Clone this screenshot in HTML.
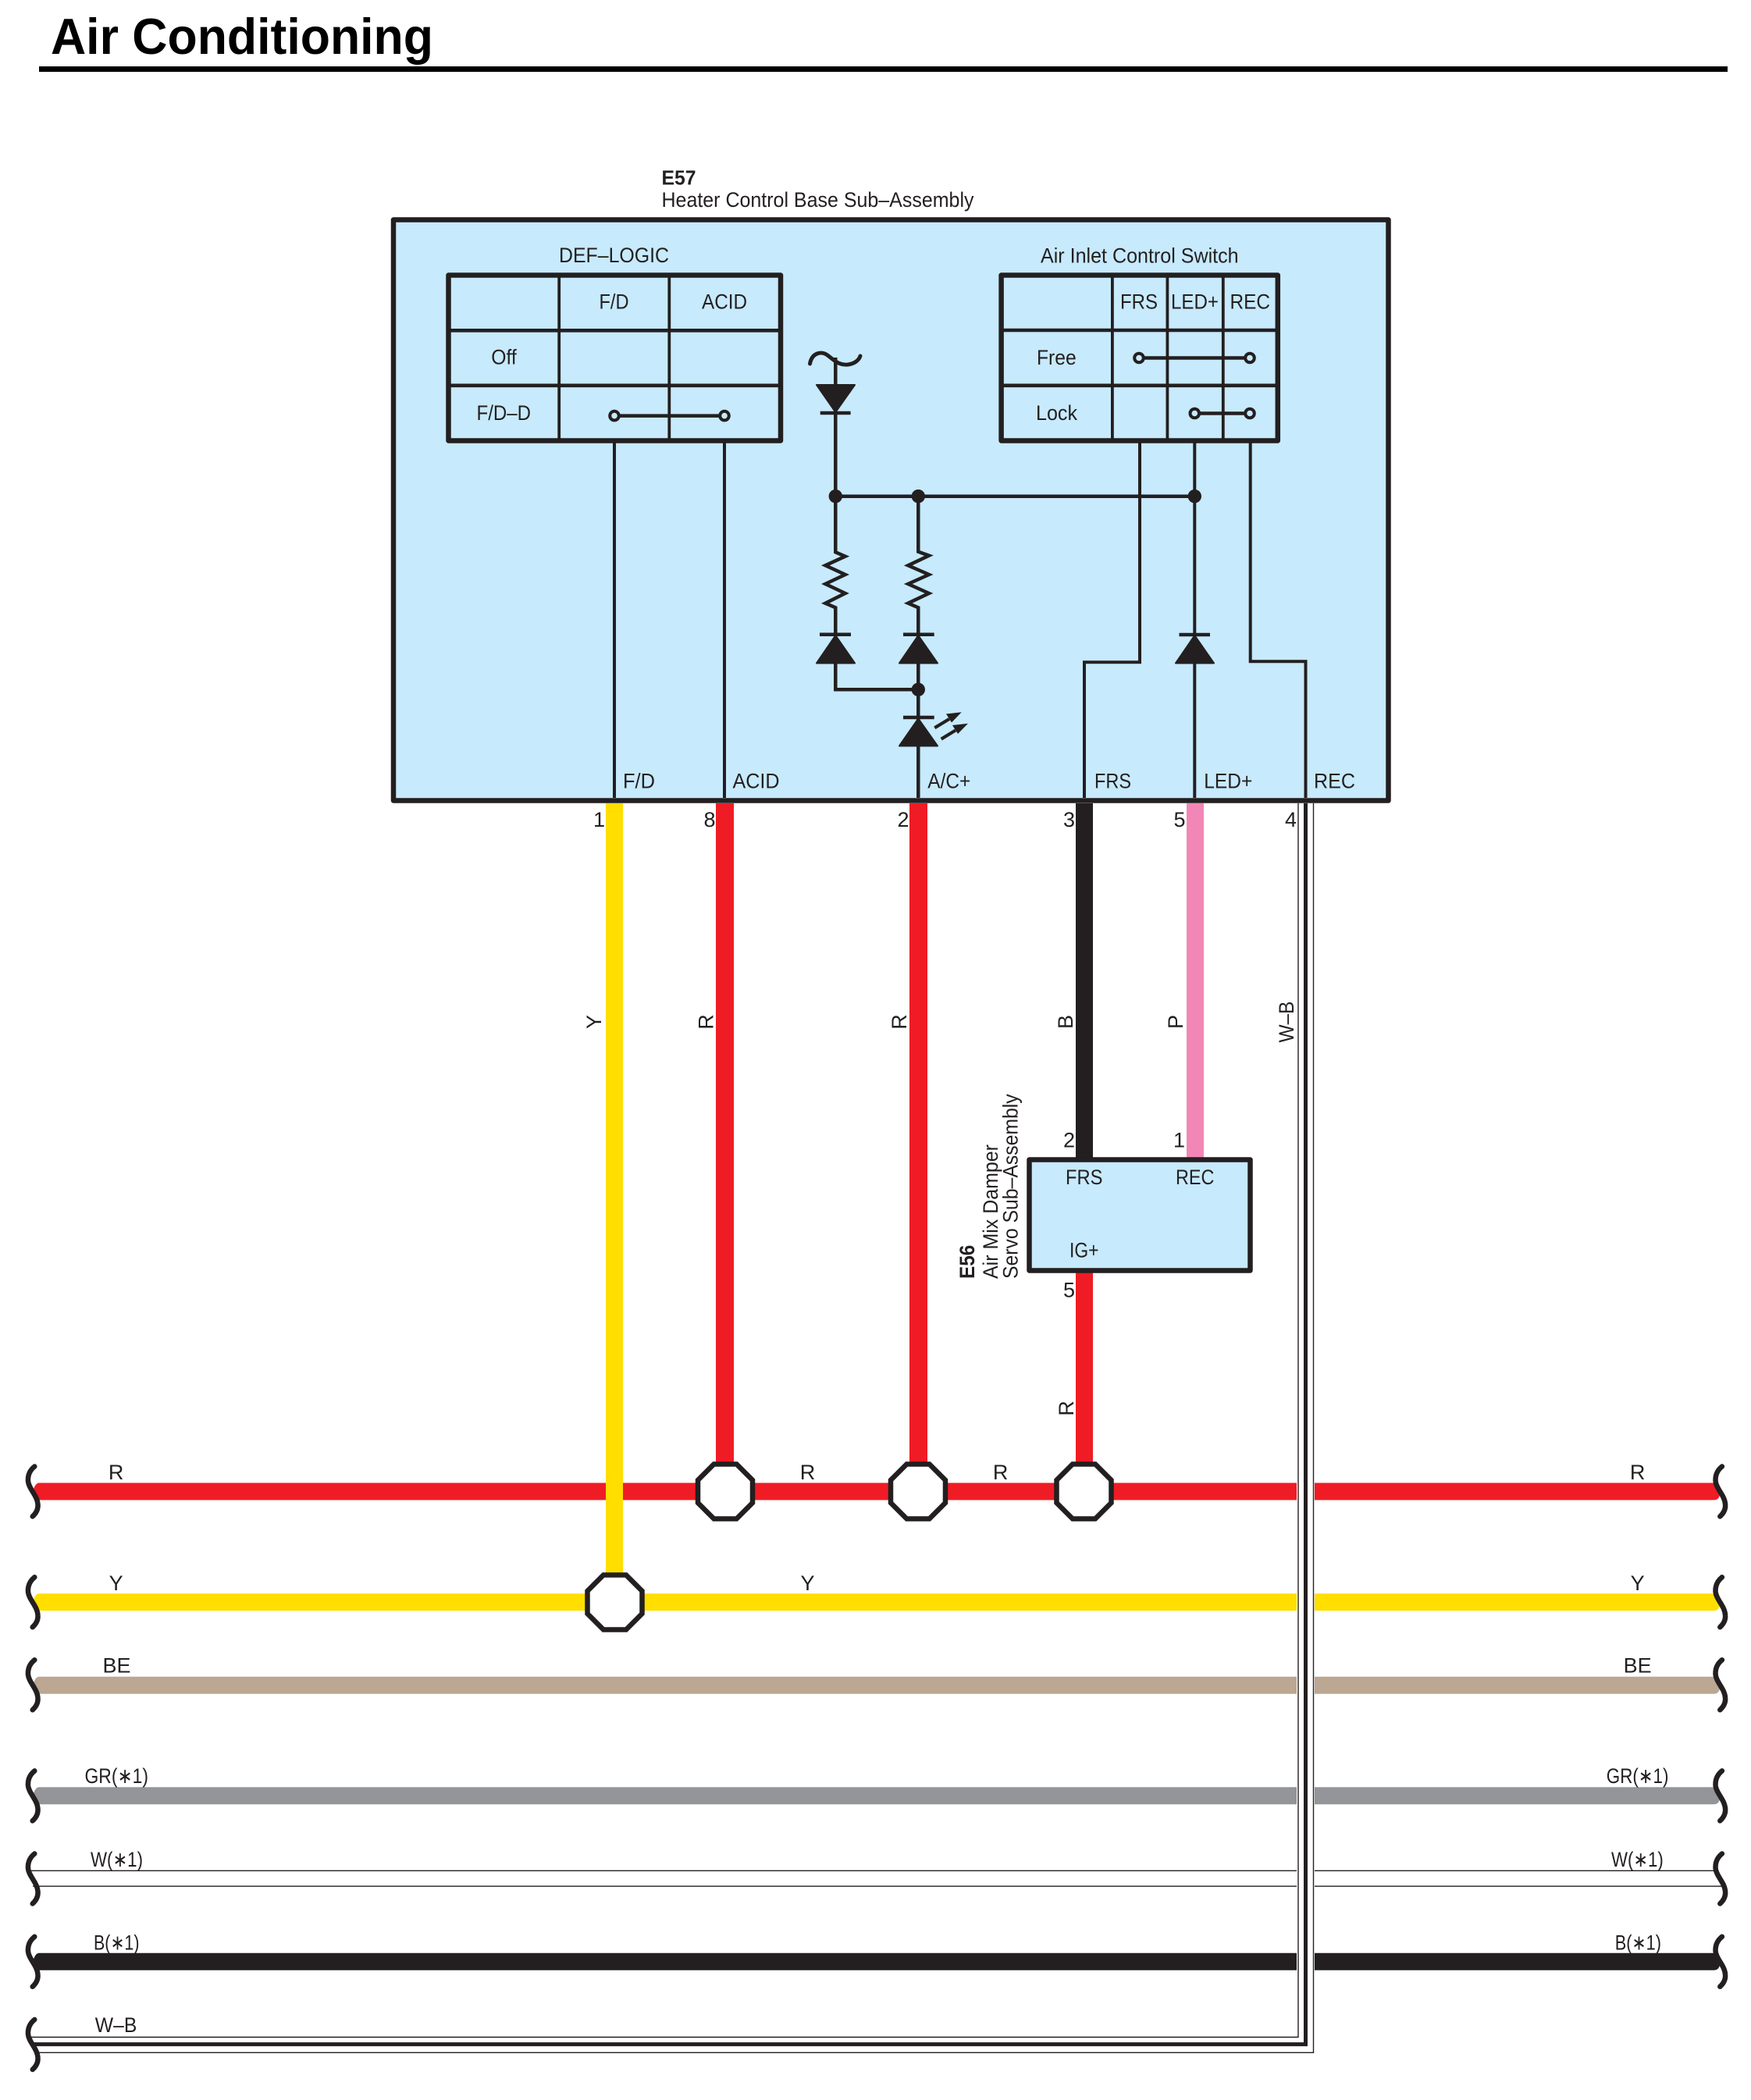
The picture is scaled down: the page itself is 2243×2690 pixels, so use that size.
<!DOCTYPE html>
<html><head><meta charset="utf-8"><title>Air Conditioning</title>
<style>
html,body{margin:0;padding:0;background:#fff}
svg{display:block}
text{font-family:"Liberation Sans","DejaVu Sans",sans-serif;font-size:27px;fill:#231f20}
</style></head><body>
<svg xmlns="http://www.w3.org/2000/svg" width="2243" height="2690" viewBox="0 0 2243 2690">
<defs>
<path id="b" d="M44.3 -32C38 -27 35.5 -20 36 -13C37 -3 48 5 48.5 17C49 24 45 29 41.7 32" fill="none" stroke="#231f20" stroke-width="6.5" stroke-linecap="round"/>
<polygon id="o" points="-14.5,-35 14.5,-35 35,-14.5 35,14.5 14.5,35 -14.5,35 -35,14.5 -35,-14.5" fill="#fff" stroke="#231f20" stroke-width="6.5"/>
<circle id="c" r="5.8" fill="#c7eafc" stroke="#231f20" stroke-width="4"/>
<path id="wl" d="M50 -11Q45 -11 42 0L48 11H1661V-11Z"/>
<path id="wr" d="M1684 -11H2200L2203 4Q2202 11 2195 11H1684Z"/>
</defs>

<!-- title -->
<text x="65" y="69" textLength="490" lengthAdjust="spacingAndGlyphs" style="font-size:64.5px;font-weight:bold;fill:#000">Air Conditioning</text>
<rect x="50" y="85" width="2163" height="7" fill="#000"/>

<text x="847.5" y="236.5" textLength="44" lengthAdjust="spacingAndGlyphs" style="font-weight:bold;font-size:26px">E57</text>
<text x="847.5" y="265" textLength="400" lengthAdjust="spacingAndGlyphs">Heater Control Base Sub–Assembly</text>

<!-- main box -->
<rect x="504" y="281.5" width="1274.5" height="744" fill="#c7eafc" stroke="#231f20" stroke-width="6.5" stroke-linejoin="round"/>

<g fill="none" stroke="#231f20" stroke-width="4">
<path d="M787 567V1022M928 567V1022"/>
<path d="M1460 567V848.3H1389V1022"/>
<path d="M1530.3 567V1022"/>
<path d="M1601.7 567V847.3H1672.5V1022"/>
</g>

<!-- left table -->
<g fill="none" stroke="#231f20">
<path d="M716.2 352.5V564.5M857.3 352.5V564.5" stroke-width="3.8"/>
<path d="M574.5 423.3H1000M574.5 493.8H1000" stroke-width="4.6"/>
<rect x="574.5" y="352.5" width="425.5" height="212" stroke-width="6.5" stroke-linejoin="round"/>
<path d="M787 532.6H928" stroke-width="4.5"/>
</g>
<use href="#c" x="787" y="532.6"/><use href="#c" x="928" y="532.6"/>
<text x="716" y="336" textLength="141" lengthAdjust="spacingAndGlyphs">DEF–LOGIC</text>
<text x="767.5" y="395.4" textLength="38" lengthAdjust="spacingAndGlyphs">F/D</text>
<text x="899" y="395.4" textLength="58" lengthAdjust="spacingAndGlyphs">ACID</text>
<text x="629.3" y="466.4" textLength="32.5" lengthAdjust="spacingAndGlyphs">Off</text>
<text x="610.5" y="537.8" textLength="69.5" lengthAdjust="spacingAndGlyphs">F/D–D</text>

<!-- right table -->
<g fill="none" stroke="#231f20">
<path d="M1424.9 352.5V564.5M1495.4 352.5V564.5M1566.8 352.5V564.5" stroke-width="3.8"/>
<path d="M1282.6 423H1636.8M1282.6 493.8H1636.8" stroke-width="4.6"/>
<rect x="1282.6" y="352.5" width="354.2" height="212" stroke-width="6.5" stroke-linejoin="round"/>
<path d="M1459 458.5H1601M1530.3 529.5H1601" stroke-width="4.5"/>
</g>
<use href="#c" x="1459" y="458.5"/><use href="#c" x="1601" y="458.5"/>
<use href="#c" x="1530.3" y="529.5"/><use href="#c" x="1601" y="529.5"/>
<text x="1333" y="336.6" textLength="253.6" lengthAdjust="spacingAndGlyphs">Air Inlet Control Switch</text>
<text x="1435" y="395.5" textLength="48" lengthAdjust="spacingAndGlyphs">FRS</text>
<text x="1500" y="395.5" textLength="61" lengthAdjust="spacingAndGlyphs">LED+</text>
<text x="1575.5" y="395.5" textLength="51.5" lengthAdjust="spacingAndGlyphs">REC</text>
<text x="1328" y="467" textLength="50.7" lengthAdjust="spacingAndGlyphs">Free</text>
<text x="1327" y="538" textLength="53" lengthAdjust="spacingAndGlyphs">Lock</text>

<!-- circuit -->
<g fill="none" stroke="#231f20" stroke-width="4.5">
<path d="M1037.5 466C1040 452 1052 449 1060 455C1068 461 1074 468 1086 467C1094 466 1100 462 1102 456" stroke-width="5" stroke-linecap="round"/>
<path d="M1070.3 458V707.3L1082.7 712.7 1057.3 724.3 1082.7 736 1057.3 748 1082.7 760 1057.3 772.7 1070.3 778.3V883.3H1176.3"/>
<path d="M1176.3 635.7V706.7L1190 711.7 1163.3 724.3 1190 736 1163.3 748 1190 760 1163.3 772.7 1176.3 778.3V1022"/>
<path d="M1070.3 635.7H1530.3"/>
<path d="M1050.7 529H1089.6M1050 812.8H1090M1157 812.8H1196.7M1157 919H1196.7M1510.5 813H1550"/>
</g>
<g fill="#231f20" stroke="#231f20" stroke-width="2" stroke-linejoin="round">
<polygon points="1046,493 1095,493 1070.3,528"/>
<polygon points="1070.3,814 1095,849.5 1046,849.5"/>
<polygon points="1176.3,814 1201,849.5 1152,849.5"/>
<polygon points="1176.3,920.5 1201,955.5 1152,955.5"/>
<polygon points="1530.3,814 1555,849.5 1506,849.5"/>
</g>
<g fill="#231f20" stroke="none">
<circle cx="1070.3" cy="635.7" r="8.7"/><circle cx="1176.3" cy="635.7" r="8.7"/><circle cx="1530.3" cy="635.7" r="8.7"/><circle cx="1176.3" cy="883.3" r="8.7"/>
<polygon points="1231.7,912.3 1212,914.5 1219,925.5"/>
<polygon points="1240,926.7 1220,929 1227,940"/>
</g>
<path d="M1197.3 932.3L1216 921M1205.7 946.7L1224 935.5" stroke="#231f20" stroke-width="4.2" fill="none"/>

<text x="798" y="1009.3" textLength="41" lengthAdjust="spacingAndGlyphs">F/D</text>
<text x="938.5" y="1009.3" textLength="60" lengthAdjust="spacingAndGlyphs">ACID</text>
<text x="1188.3" y="1009.3" textLength="55" lengthAdjust="spacingAndGlyphs">A/C+</text>
<text x="1402" y="1009.3" textLength="47" lengthAdjust="spacingAndGlyphs">FRS</text>
<text x="1542.3" y="1009.3" textLength="62" lengthAdjust="spacingAndGlyphs">LED+</text>
<text x="1683" y="1009.3" textLength="53" lengthAdjust="spacingAndGlyphs">REC</text>

<!-- horizontal wires -->
<g fill="#ef1c25"><use href="#wl" y="1910.5"/><use href="#wr" y="1910.5"/></g>
<g fill="#ffde00"><use href="#wl" y="2052.3"/><use href="#wr" y="2052.3"/></g>
<g fill="#bca792"><use href="#wl" y="2158.8"/><use href="#wr" y="2158.8"/></g>
<g fill="#939598"><use href="#wl" y="2300.3"/><use href="#wr" y="2300.3"/></g>
<g fill="#231f20"><use href="#wl" y="2512.8"/><use href="#wr" y="2512.8"/></g>
<path d="M38 2396.3H1661M1684 2396.3H2198M42 2416.2H1661M1684 2416.2H2205" fill="none" stroke="#231f20" stroke-width="1.3"/>

<!-- W-B -->
<g fill="none" stroke="#231f20" stroke-linejoin="miter">
<path d="M40 2609.5H1663V1029" stroke-width="1.4"/>
<path d="M44 2629.3H1682.5V1029" stroke-width="1.4"/>
<path d="M40 2618.6H1672.5V1029" stroke-width="5"/>
</g>

<!-- vertical wires -->
<rect x="776" y="1029" width="22" height="990" fill="#ffde00"/>
<rect x="917" y="1029" width="23" height="846" fill="#ef1c25"/>
<rect x="1165" y="1029" width="23" height="846" fill="#ef1c25"/>
<rect x="1378" y="1029" width="22" height="455" fill="#231f20"/>
<rect x="1520" y="1029" width="22" height="455" fill="#f287b7"/>
<rect x="1378" y="1628" width="22" height="247" fill="#ef1c25"/>

<!-- damper box -->
<rect x="1318.5" y="1485.5" width="283" height="142" fill="#c7eafc" stroke="#231f20" stroke-width="6.5" stroke-linejoin="round"/>
<text x="1365" y="1517" textLength="47.5" lengthAdjust="spacingAndGlyphs">FRS</text>
<text x="1506" y="1517" textLength="49.4" lengthAdjust="spacingAndGlyphs">REC</text>
<text x="1370" y="1610.7" textLength="37.5" lengthAdjust="spacingAndGlyphs">IG+</text>

<!-- octagons -->
<use href="#o" x="787.5" y="2052.5"/>
<use href="#o" x="929" y="1910.5"/>
<use href="#o" x="1176" y="1910.5"/>
<use href="#o" x="1388.5" y="1910.5"/>

<!-- brackets -->
<use href="#b" x="0" y="1910.5"/><use href="#b" x="2161.6" y="1910.5"/>
<use href="#b" x="0" y="2052.3"/><use href="#b" x="2161.6" y="2052.3"/>
<use href="#b" x="0" y="2158.3"/><use href="#b" x="2161.6" y="2158.3"/>
<use href="#b" x="0" y="2300.4"/><use href="#b" x="2161.6" y="2300.4"/>
<use href="#b" x="0" y="2406.5"/><use href="#b" x="2161.6" y="2406.5"/>
<use href="#b" x="0" y="2512.8"/><use href="#b" x="2161.6" y="2512.8"/>
<use href="#b" x="0" y="2619"/>

<!-- pin numbers -->
<g text-anchor="end">
<text x="775" y="1059">1</text>
<text x="916.5" y="1059">8</text>
<text x="1164.5" y="1059">2</text>
<text x="1377" y="1059">3</text>
<text x="1518.5" y="1059">5</text>
<text x="1661" y="1059">4</text>
<text x="1377" y="1469.6">2</text>
<text x="1518" y="1469.6">1</text>
<text x="1377" y="1661.6">5</text>
</g>

<!-- rotated labels -->
<g text-anchor="middle">
<text transform="translate(770 1309) rotate(-90)">Y</text>
<text transform="translate(913.5 1309) rotate(-90)">R</text>
<text transform="translate(1161 1309) rotate(-90)">R</text>
<text transform="translate(1374 1309) rotate(-90)">B</text>
<text transform="translate(1515 1309) rotate(-90)">P</text>
<text transform="translate(1657 1309) rotate(-90)" textLength="53" lengthAdjust="spacingAndGlyphs">W–B</text>
<text transform="translate(1375 1804) rotate(-90)">R</text>
</g>
<text transform="translate(1248 1638) rotate(-90)" textLength="43.3" lengthAdjust="spacingAndGlyphs" style="font-weight:bold;font-size:27px">E56</text>
<text transform="translate(1278 1638) rotate(-90)" textLength="172" lengthAdjust="spacingAndGlyphs">Air Mix Damper</text>
<text transform="translate(1303.5 1638) rotate(-90)" textLength="236.6" lengthAdjust="spacingAndGlyphs">Servo Sub–Assembly</text>

<!-- wire labels -->
<g text-anchor="middle">
<text x="148.6" y="1895">R</text><text x="1034.5" y="1895">R</text><text x="1281.6" y="1895">R</text><text x="2097.6" y="1895">R</text>
<text x="148.6" y="2037">Y</text><text x="1034.5" y="2037">Y</text><text x="2097.6" y="2037">Y</text>
<text x="149.5" y="2142.4">BE</text><text x="2097.6" y="2142.4">BE</text>
</g>
<text x="108.5" y="2284" textLength="81.5" lengthAdjust="spacingAndGlyphs">GR(∗1)</text>
<text x="2057.8" y="2284" textLength="79.6" lengthAdjust="spacingAndGlyphs">GR(∗1)</text>
<text x="116" y="2391" textLength="67" lengthAdjust="spacingAndGlyphs">W(∗1)</text>
<text x="2064" y="2391" textLength="66.8" lengthAdjust="spacingAndGlyphs">W(∗1)</text>
<text x="120" y="2497.6" textLength="58.5" lengthAdjust="spacingAndGlyphs">B(∗1)</text>
<text x="2068.7" y="2497.6" textLength="59.3" lengthAdjust="spacingAndGlyphs">B(∗1)</text>
<text x="121.8" y="2603" textLength="53.6" lengthAdjust="spacingAndGlyphs">W–B</text>
</svg>
</body></html>
